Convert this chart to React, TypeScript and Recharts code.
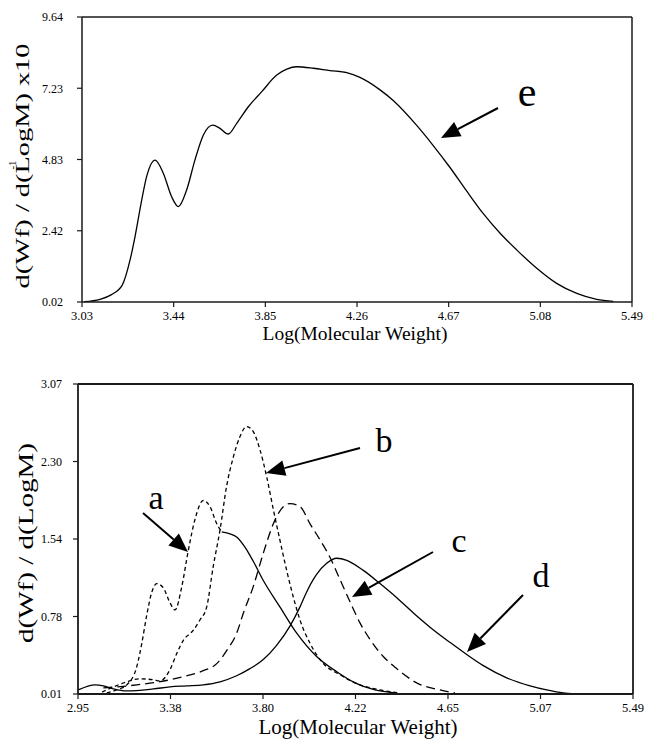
import React from "react";
import { LineChart, Line, XAxis, YAxis, ReferenceLine } from "recharts";

const FONT = '"Liberation Serif", "Times New Roman", serif';

// top panel: total distribution (e)
const TOP_X_TICKS = [3.03, 3.44, 3.85, 4.26, 4.67, 5.08, 5.49];
const TOP_X_LABELS = ["3.03", "3.44", "3.85", "4.26", "4.67", "5.08", "5.49"];
const TOP_Y_TICKS = [0.02, 2.425, 4.83, 7.235, 9.64];
const TOP_Y_LABELS = ["0.02", "2.42", "4.83", "7.23", "9.64"];

const curveE = [
  [3.04, 0.03], [3.11, 0.11], [3.16, 0.26], [3.21, 0.59], [3.245, 1.44],
  [3.267, 2.22], [3.297, 3.46], [3.319, 4.25], [3.357, 4.81], [3.394, 4.36],
  [3.431, 3.57], [3.461, 3.24], [3.498, 3.8], [3.535, 4.81], [3.573, 5.66],
  [3.615, 5.99], [3.647, 5.88], [3.684, 5.69], [3.722, 6.05], [3.774, 6.61],
  [3.834, 7.12], [3.901, 7.68], [3.946, 7.88], [3.99, 7.96], [4.065, 7.91],
  [4.139, 7.83], [4.214, 7.76], [4.273, 7.6], [4.363, 7.18], [4.422, 6.82],
  [4.527, 5.98], [4.601, 5.3], [4.676, 4.56], [4.751, 3.76], [4.825, 3.0],
  [4.9, 2.34], [4.974, 1.78], [5.064, 1.16], [5.153, 0.65], [5.243, 0.31],
  [5.332, 0.11], [5.406, 0.04],
];

// bottom panel: fractions a-d
const BOT_X_TICKS = [2.95, 3.3733, 3.7967, 4.22, 4.6433, 5.0667, 5.49];
const BOT_X_LABELS = ["2.95", "3.38", "3.80", "4.22", "4.65", "5.07", "5.49"];
const BOT_Y_TICKS = [0.01, 0.775, 1.54, 2.305, 3.07];
const BOT_Y_LABELS = ["0.01", "0.78", "1.54", "2.30", "3.07"];

const curveADashed = [
  [3.05, 0.01], [3.127, 0.05], [3.173, 0.1], [3.219, 0.28], [3.242, 0.51],
  [3.264, 0.78], [3.287, 1.01], [3.31, 1.1], [3.34, 1.06], [3.371, 0.91],
  [3.394, 0.84], [3.425, 1.07], [3.455, 1.43], [3.485, 1.73], [3.523, 1.92],
  [3.554, 1.86], [3.585, 1.69], [3.608, 1.61],
];
const curveASolid = [
  [3.608, 1.61], [3.646, 1.59], [3.676, 1.56], [3.714, 1.46], [3.752, 1.32],
  [3.798, 1.13], [3.874, 0.87], [3.951, 0.61], [4.042, 0.38], [4.134, 0.23],
  [4.218, 0.12], [4.309, 0.05], [4.401, 0.02],
];
const curveB = [
  [3.06, 0.03], [3.112, 0.08], [3.173, 0.13], [3.234, 0.16], [3.295, 0.15],
  [3.325, 0.14], [3.371, 0.25], [3.402, 0.41], [3.432, 0.54], [3.478, 0.64],
  [3.508, 0.74], [3.539, 0.87], [3.569, 1.27], [3.6, 1.63], [3.63, 2.06],
  [3.661, 2.35], [3.691, 2.55], [3.722, 2.65], [3.752, 2.6], [3.783, 2.42],
  [3.814, 2.15], [3.844, 1.83], [3.874, 1.53], [3.905, 1.23], [3.935, 0.97],
  [3.966, 0.74], [4.012, 0.51], [4.073, 0.31], [4.149, 0.2], [4.218, 0.12],
  [4.332, 0.05], [4.424, 0.02],
];
const curveC = [
  [3.066, 0.07], [3.219, 0.1], [3.371, 0.15], [3.447, 0.19], [3.523, 0.24],
  [3.585, 0.31], [3.631, 0.44], [3.676, 0.61], [3.707, 0.81], [3.752, 1.07],
  [3.798, 1.4], [3.844, 1.69], [3.882, 1.84], [3.92, 1.89], [3.966, 1.86],
  [4.012, 1.69], [4.058, 1.53], [4.103, 1.36], [4.149, 1.14], [4.195, 0.92],
  [4.241, 0.71], [4.286, 0.55], [4.347, 0.38], [4.409, 0.26], [4.5, 0.12],
  [4.607, 0.05], [4.675, 0.02],
];
const curveD = [
  [2.951, 0.05], [3.028, 0.1], [3.066, 0.09], [3.112, 0.06], [3.173, 0.04],
  [3.295, 0.06], [3.371, 0.08], [3.447, 0.09], [3.523, 0.1], [3.6, 0.13],
  [3.676, 0.19], [3.737, 0.26], [3.798, 0.35], [3.859, 0.49], [3.92, 0.68],
  [3.966, 0.87], [3.997, 1.02], [4.042, 1.19], [4.088, 1.3], [4.134, 1.35],
  [4.18, 1.33], [4.256, 1.23], [4.332, 1.1], [4.409, 0.96], [4.485, 0.81],
  [4.561, 0.67], [4.652, 0.52], [4.729, 0.4], [4.805, 0.29], [4.912, 0.17],
  [5.019, 0.09], [5.095, 0.05], [5.171, 0.02], [5.225, 0.01],
];

const toPoints = (pts: number[][]) => pts.map(([x, y]) => ({ x, y }));

const AXIS_COLOR = "#1a1a1a";

// annotation arrows, in page pixels: [fromX, fromY, tipX, tipY]
const arrows = [
  [498, 108, 441, 138],
  [143, 513, 188, 552],
  [360, 448, 266, 473],
  [433, 552, 352, 597],
  [523, 595, 467, 652],
];

function Arrow({ a }: { a: number[] }) {
  const [x1, y1, x2, y2] = a;
  const dx = x2 - x1;
  const dy = y2 - y1;
  const len = Math.sqrt(dx * dx + dy * dy);
  const ux = dx / len;
  const uy = dy / len;
  const headLen = 19;
  const halfW = 8;
  const bx = x2 - ux * headLen;
  const by = y2 - uy * headLen;
  const p1 = `${bx - uy * halfW},${by + ux * halfW}`;
  const p2 = `${bx + uy * halfW},${by - ux * halfW}`;
  return (
    <g>
      <line x1={x1} y1={y1} x2={bx} y2={by} stroke="#000" strokeWidth={2} />
      <polygon points={`${x2},${y2} ${p1} ${p2}`} fill="#000" />
    </g>
  );
}

export default function App() {
  const tickStyle = { fontSize: 12.5, fill: "#000", fontFamily: FONT };
  const yTickStyle = { fontSize: 12, fill: "#000", fontFamily: FONT };
  const lineProps = {
    dataKey: "y",
    stroke: "#000",
    strokeWidth: 1.3,
    dot: false,
    type: "monotone" as const,
    isAnimationActive: false,
  };

  return (
    <div
      style={{
        position: "absolute",
        left: 0,
        top: 0,
        width: 645,
        height: 740,
        background: "#fff",
        overflow: "hidden",
        fontFamily: FONT,
      }}
    >
      <div style={{ position: "absolute", left: 0, top: 0 }}>
        <LineChart width={645} height={345} margin={{ top: 17, right: 13, left: 22, bottom: 13 }}>
          <XAxis
            type="number"
            dataKey="x"
            domain={[3.03, 5.49]}
            ticks={TOP_X_TICKS}
            tickFormatter={(v, i) => TOP_X_LABELS[i]}
            interval={0}
            height={30}
            tickSize={5}
            tickMargin={4}
            tick={tickStyle}
            axisLine={{ stroke: AXIS_COLOR, strokeWidth: 1.5 }}
            tickLine={{ stroke: AXIS_COLOR, strokeWidth: 1.2 }}
          />
          <YAxis
            type="number"
            domain={[0.02, 9.64]}
            ticks={TOP_Y_TICKS}
            tickFormatter={(v, i) => TOP_Y_LABELS[i]}
            interval={0}
            width={60}
            tickSize={5}
            tickMargin={14}
            tick={yTickStyle}
            axisLine={{ stroke: AXIS_COLOR, strokeWidth: 1.5 }}
            tickLine={{ stroke: AXIS_COLOR, strokeWidth: 1.2 }}
          />
          <ReferenceLine y={9.64} stroke={AXIS_COLOR} strokeWidth={1.5} />
          <ReferenceLine x={5.49} stroke={AXIS_COLOR} strokeWidth={1.5} />
          <Line {...lineProps} data={toPoints(curveE)} />
        </LineChart>
      </div>

      <div style={{ position: "absolute", left: 0, top: 360 }}>
        <LineChart width={645} height={380} margin={{ top: 24, right: 12, left: 18, bottom: 16 }}>
          <XAxis
            type="number"
            dataKey="x"
            domain={[2.95, 5.49]}
            ticks={BOT_X_TICKS}
            tickFormatter={(v, i) => BOT_X_LABELS[i]}
            interval={0}
            height={30}
            tickSize={5}
            tickMargin={4}
            tick={tickStyle}
            axisLine={{ stroke: AXIS_COLOR, strokeWidth: 1.8 }}
            tickLine={{ stroke: AXIS_COLOR, strokeWidth: 1.2 }}
          />
          <YAxis
            type="number"
            domain={[0.01, 3.07]}
            ticks={BOT_Y_TICKS}
            tickFormatter={(v, i) => BOT_Y_LABELS[i]}
            interval={0}
            width={60}
            tickSize={5}
            tickMargin={11}
            tick={yTickStyle}
            axisLine={{ stroke: AXIS_COLOR, strokeWidth: 1.8 }}
            tickLine={{ stroke: AXIS_COLOR, strokeWidth: 1.2 }}
          />
          <ReferenceLine y={3.07} stroke={AXIS_COLOR} strokeWidth={1.8} />
          <ReferenceLine x={5.49} stroke={AXIS_COLOR} strokeWidth={1.8} />
          <Line {...lineProps} data={toPoints(curveD)} />
          <Line {...lineProps} data={toPoints(curveC)} strokeDasharray="9 5" />
          <Line {...lineProps} data={toPoints(curveB)} strokeDasharray="4 3" />
          <Line {...lineProps} data={toPoints(curveADashed)} strokeDasharray="4 3" />
          <Line {...lineProps} data={toPoints(curveASolid)} />
        </LineChart>
      </div>

      <svg
        width={645}
        height={740}
        style={{ position: "absolute", left: 0, top: 0, pointerEvents: "none" }}
      >
        <g fontFamily={FONT} fill="#000">
          <text x={355} y={340} fontSize={19.5} textAnchor="middle">
            Log(Molecular Weight)
          </text>
          <text x={358} y={734} fontSize={21} textAnchor="middle">
            Log(Molecular Weight)
          </text>
          <text
            transform="translate(29,166) rotate(-90)"
            fontSize={19}
            textAnchor="middle"
            textLength={245}
            lengthAdjust="spacingAndGlyphs"
          >
            d(Wf) / d(LogM) x10
          </text>
          <text transform="translate(16,165) rotate(-90)" fontSize={11} textAnchor="middle">
            -1
          </text>
          <text
            transform="translate(33,543) rotate(-90)"
            fontSize={20}
            textAnchor="middle"
            textLength={200}
            lengthAdjust="spacingAndGlyphs"
          >
            d(Wf) / d(LogM)
          </text>

          <text x={527} y={106} fontSize={42} textAnchor="middle">e</text>
          <text x={156} y={509} fontSize={34} textAnchor="middle">a</text>
          <text x={384} y={452} fontSize={34} textAnchor="middle">b</text>
          <text x={459} y={552} fontSize={34} textAnchor="middle">c</text>
          <text x={541} y={587} fontSize={34} textAnchor="middle">d</text>
        </g>
        {arrows.map((a, i) => (
          <Arrow key={i} a={a} />
        ))}
      </svg>
    </div>
  );
}
